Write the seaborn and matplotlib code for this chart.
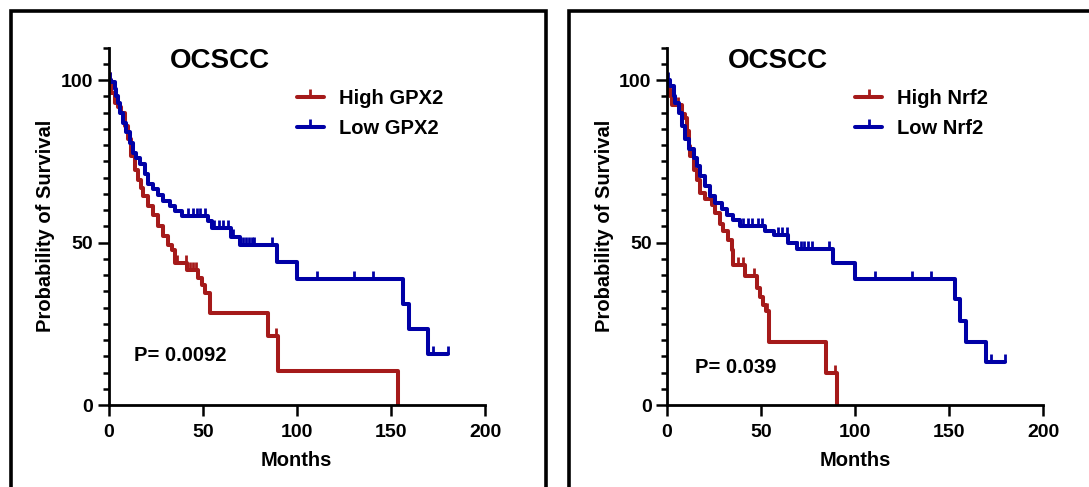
import numpy as np
import matplotlib
matplotlib.use("Agg")
import matplotlib.pyplot as plt
from matplotlib.lines import Line2D
from matplotlib.patches import Rectangle
from matplotlib.ticker import MultipleLocator
import seaborn as sns

# GPX2 panel: Kaplan-Meier steps (months, % survival) and censor times
gpx2_high_t = [0, 1.4, 3.2, 5, 6.8, 8.5, 10.3, 12, 13.9, 15.6, 17.4, 18.4, 21.1, 23.7, 26.4,
               29, 31.7, 33.5, 35.3, 41.5, 47.6, 49.4, 51.2, 53.9, 84.5, 89.8, 153.9]
gpx2_high_s = [100, 96.2, 93.1, 91.6, 90, 85.9, 81.8, 76.6, 72.5, 69.4, 66.9, 64.3, 61.2, 58.6, 55,
               51.9, 49.4, 47.8, 43.7, 41.5, 39.1, 37, 34.5, 28.3, 21.1, 10.5, 0]
gpx2_high_cens = [1, 36.5, 41, 43, 44.8, 46.3, 89.2]

gpx2_low_t = [0, 1.4, 3.2, 4.1, 5, 5.9, 7.6, 9.4, 11.2, 13, 14.7, 16.5, 19.2, 21.1, 23.7, 26.4,
              29, 32.6, 35.3, 38.8, 53, 54.8, 65, 69.8, 89.3, 100, 156.5, 159.5, 169.5, 180.4]
gpx2_low_s = [100, 99.3, 97.2, 95.2, 93.1, 90, 86.9, 83.9, 80.8, 77.7, 76.1, 74.1, 71, 67.9, 66.4, 64.8,
              62.7, 61.2, 59.7, 58.1, 56.6, 54.5, 51.6, 49.2, 43.9, 38.9, 31.2, 23.5, 15.6, 15.6]
gpx2_low_cens = [0.5, 42, 45, 47, 48.8, 51.2, 56, 58.4, 61, 63.6, 66.3, 69.8, 71.5, 73, 74.5,
                 76, 77.5, 86.6, 110.8, 130.5, 140.6, 172.5, 180.4]

# Nrf2 panel
nrf2_high_t = [0, 0.9, 1.8, 2.7, 8, 9.8, 10.7, 11.6, 12.4, 14.2, 16, 17.6, 20.2, 23.8, 25.6, 28.2,
               30, 32.6, 34.4, 35.3, 41.5, 47.7, 49.5, 51.2, 52.5, 54.5, 84.3, 90.2]
nrf2_high_s = [100, 97.2, 95.2, 92.3, 89.5, 88.5, 84.4, 79.7, 76.6, 72.5, 69.4, 65.3, 63.3, 61.7, 59.2, 55.6,
               53.5, 50.9, 47.8, 43.2, 39.6, 36, 33.4, 30.9, 28.8, 19.3, 9.7, 0]
nrf2_high_cens = [6, 38, 40.7, 46.5, 53, 89.3]

nrf2_low_t = [0, 1.8, 3.6, 4.5, 6.3, 8, 9.8, 11.6, 14.2, 15.8, 17.6, 20.2, 22.9, 25.6, 29.1, 31.8,
              35.3, 38.8, 52.1, 57, 64.5, 69, 88.4, 99.9, 153.1, 155.7, 158.8, 169.4, 179.6]
nrf2_low_s = [100, 98.2, 95.2, 93.1, 90, 85.9, 81.8, 78.7, 76.1, 73.6, 70.5, 67.4, 64.3, 62.2, 60.2, 58.6,
              57.1, 55, 53.5, 52.3, 49.9, 48, 43.7, 38.9, 32.6, 26, 19.5, 13.1, 13.1]
nrf2_low_cens = [0.5, 40.5, 43.2, 45, 48.5, 50.3, 59.2, 61, 63.6, 69, 71, 73, 75, 77, 86.3,
                 110.6, 130, 140.2, 172.2, 179.6]

RED = "#A51A1A"
BLUE = "#0000A6"

sns.set_style("ticks")
plt.rcParams["font.family"] = ["Liberation Sans", "DejaVu Sans"]
plt.rcParams["font.weight"] = "bold"
plt.rcParams["text.color"] = "black"
plt.rcParams["axes.labelcolor"] = "black"
plt.rcParams["xtick.color"] = "black"
plt.rcParams["ytick.color"] = "black"

fig = plt.figure(figsize=(10.89, 4.87), dpi=100)


def km_curve(ax, t, s, cens, color):
    sns.lineplot(x=t, y=s, ax=ax, color=color, lw=2.9, drawstyle="steps-post",
                 estimator=None, sort=False)
    t = np.asarray(t)
    s = np.asarray(s)
    idx = np.searchsorted(t, cens, side="right") - 1
    ax.plot(cens, s[idx], ls="none", marker=2, ms=6, mew=2, color=color)


def panel(left, curves, labels, pval, pval_xy):
    ax = fig.add_axes([left / 1089, (487 - 405) / 487, 376.4 / 1089, 357.3 / 487])
    for (t, s, c), col in zip(curves, [RED, BLUE]):
        km_curve(ax, t, s, c, col)
    ax.set_xlim(0, 200)
    ax.set_ylim(0, 110)
    ax.set_xticks([0, 50, 100, 150, 200])
    ax.set_yticks([0, 50, 100])
    ax.yaxis.set_minor_locator(MultipleLocator(5))
    sns.despine(ax=ax)
    for sp in ["left", "bottom"]:
        ax.spines[sp].set_linewidth(2)
        ax.spines[sp].set_color("black")
    ax.tick_params(axis="both", which="major", length=8, width=1.8, labelsize=14,
                   color="black", labelcolor="black", pad=3)
    ax.tick_params(axis="x", which="major", pad=6)
    ax.tick_params(axis="y", which="minor", length=4.5, width=1.8, color="black")
    for lab in ax.get_xticklabels() + ax.get_yticklabels():
        lab.set_fontweight("bold")
    ax.set_xlabel("Months", fontsize=14.5, fontweight="bold", labelpad=7)
    ax.set_ylabel("Probability of Survival", fontsize=14.5, fontweight="bold", labelpad=4)
    ax.text(59, 106, "OCSCC", ha="center", va="center", fontsize=20, fontweight="bold")
    ax.text(pval_xy[0], pval_xy[1], pval, ha="left", va="center", fontsize=14.5,
            fontweight="bold")
    handles = [Line2D([], [], color=RED, lw=2.9, marker=2, ms=6, mew=2),
               Line2D([], [], color=BLUE, lw=2.9, marker=2, ms=6, mew=2)]
    ax.legend(handles, labels, loc="upper left", bbox_to_anchor=(0.5, 0.885),
              frameon=False, numpoints=1, handlelength=1.35, handletextpad=0.75,
              labelspacing=0.55, borderpad=0, borderaxespad=0,
              prop={"size": 14.5, "weight": "bold"})
    return ax


panel(108.6, [(gpx2_high_t, gpx2_high_s, gpx2_high_cens),
              (gpx2_low_t, gpx2_low_s, gpx2_low_cens)],
      ["High GPX2", "Low GPX2"], "P= 0.0092", (13.5, 15.3))
panel(666.9, [(nrf2_high_t, nrf2_high_s, nrf2_high_cens),
              (nrf2_low_t, nrf2_low_s, nrf2_low_cens)],
      ["High Nrf2", "Low Nrf2"], "P= 0.039", (14.9, 11.6))

# black frames around each panel (open at the bottom edge of the image)
fig.patches.append(Rectangle((10.7 / 1089, -0.1), (546 - 10.7) / 1089, 1.1 - 10.7 / 487,
                             transform=fig.transFigure, fill=False, lw=2.6,
                             edgecolor="black"))
fig.patches.append(Rectangle((568.7 / 1089, -0.1), 0.5, 1.1 - 10.7 / 487,
                             transform=fig.transFigure, fill=False, lw=2.6,
                             edgecolor="black"))

fig.savefig("out.png", dpi=100, facecolor="white")
